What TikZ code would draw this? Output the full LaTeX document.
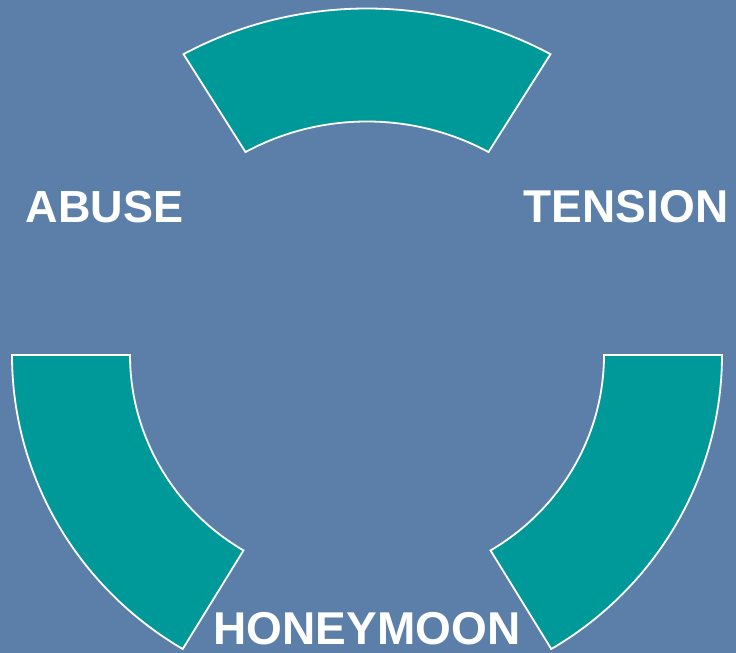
\documentclass[tikz,border=0pt]{standalone}
\usepackage{fontspec}
\setmainfont{Liberation Sans}
\usetikzlibrary{calc}
\definecolor{bgblue}{RGB}{91,127,168}
\definecolor{teal}{RGB}{0,153,153}
\tikzset{
  blockarc/.style={fill=teal, draw=white, line width=1.8pt, line join=miter},
  phase/.style={text=white, font=\bfseries\fontsize{46}{50}\selectfont, inner sep=0pt, anchor=base}
}
\begin{document}
\begin{tikzpicture}[x=1pt,y=1pt]
  % background
  \fill[bgblue] (0,0) rectangle (736,653);
  \useasboundingbox (0,0) rectangle (736,653);
  % centres
  \coordinate (ct) at (367,303.5);
  \coordinate (cl) at (364,298);
  \coordinate (cr) at (370,298);
  % top block arc
  \draw[blockarc] ($(ct)+(60:367 and 341)$)
     arc[start angle=60, end angle=120, x radius=367, y radius=341]
     -- ($(ct)+(120:243 and 228)$)
     arc[start angle=120, end angle=60, x radius=243, y radius=228]
     -- cycle;
  % left block arc
  \draw[blockarc] ($(cl)+(180:352 and 343)$)
     arc[start angle=180, end angle=239, x radius=352, y radius=343]
     -- ($(cl)+(239:234 and 228)$)
     arc[start angle=239, end angle=180, x radius=234, y radius=228]
     -- cycle;
  % right block arc
  \draw[blockarc] ($(cr)+(0:352 and 343)$)
     arc[start angle=0, end angle=-59, x radius=352, y radius=343]
     -- ($(cr)+(-59:234 and 228)$)
     arc[start angle=-59, end angle=0, x radius=234, y radius=228]
     -- cycle;
  % labels
  \node[phase, font=\bfseries\fontsize{45}{50}\selectfont] (abuse) at (104.5,430) {ABUSE};
  \node[phase] (tension) at (626,430) {TENSION};
  \node[phase] (honeymoon) at (367,9) {HONEYMOON};
\end{tikzpicture}
\end{document}
